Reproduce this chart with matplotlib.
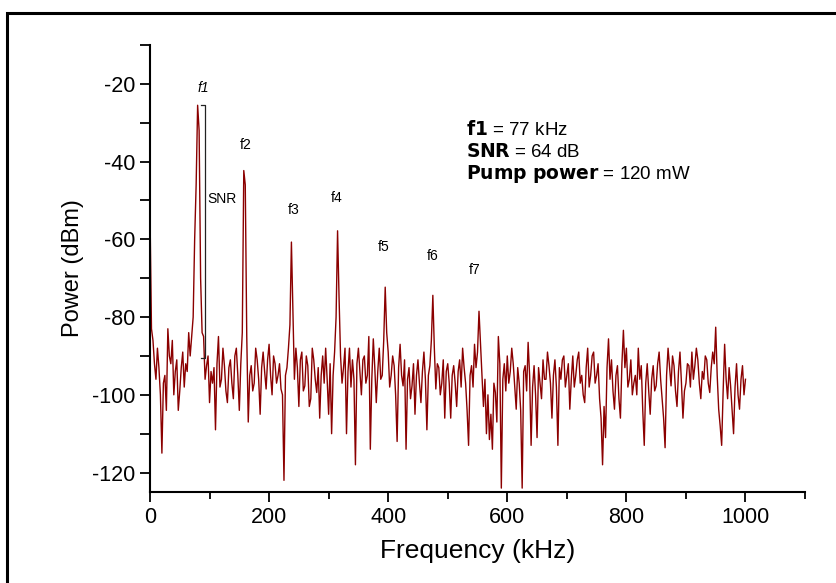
import numpy as np
import matplotlib
matplotlib.use('Agg')
import matplotlib.pyplot as plt
from matplotlib.patches import Rectangle
from matplotlib.ticker import MultipleLocator

plt.rcParams['font.family'] = ['Liberation Sans', 'DejaVu Sans']
plt.rcParams['axes.unicode_minus'] = False

# spectrum, 2.5 kHz steps from 0 to 1000 kHz (one row = 50 kHz)
freq = np.arange(0, 1000.1, 2.5)
power = [
    -53, -83, -86, -92, -96, -88, -93, -100, -115, -97, -95, -104, -83, -90, -92, -86, -100, -94, -91, -104,
    -99, -93, -89, -98, -92, -94, -84, -90, -85, -80, -60, -46, -25.5, -32, -70, -84, -85, -96, -92.5, -90,
    -102, -94, -97, -93, -109, -92, -85, -98, -96, -88, -92.5, -99, -102, -93, -91, -97, -101, -90, -88, -95,
    -104, -92, -84, -42.3, -46, -85, -107, -95, -92.5, -99, -97, -88, -91, -96, -105, -93, -89, -94, -98.5, -91,
    -87, -95, -100, -90, -92, -97, -95, -92, -98.5, -100, -122, -95, -93, -88, -82, -60.7, -78, -96, -88, -93,
    -103, -91, -89, -99, -97.7, -90, -92.5, -103, -101, -88, -91, -96, -99.4, -93, -106, -95, -90, -97, -88, -96,
    -105, -92, -110, -95, -89, -80, -57.8, -75, -90, -97, -93, -88, -110, -94, -88, -98, -91, -96, -118, -92,
    -88, -94, -100, -91, -90, -97, -95, -85, -114, -96, -85.6, -93, -102, -94, -88, -96, -95, -86, -72.3, -84,
    -89, -98, -95, -90, -92.5, -100, -112, -93, -87, -95, -97.7, -91, -114, -96, -93, -101, -97.7, -92, -105, -95,
    -91, -97, -102, -94, -89, -96, -109, -95, -92.5, -86, -74.4, -88, -98.5, -92, -93, -100, -97, -91, -106, -94,
    -92, -97, -106, -95, -92.5, -97, -103, -94, -91, -98, -88, -93, -97, -104, -113, -95, -92.5, -98, -87, -93,
    -89, -78.5, -87, -95, -103, -96, -110, -100, -111.5, -105, -114, -97, -99.4, -107, -85, -92, -124, -96, -92, -99,
    -90, -97, -94, -88, -92, -98, -103.7, -93, -97, -104, -124, -94, -92.5, -99, -86.5, -95, -113, -98, -92.5, -100,
    -111, -93, -97, -101, -91, -96, -96, -89, -92.5, -97, -106, -95, -91, -98, -113, -93, -96, -91, -90, -98,
    -95, -92, -103.7, -96, -90, -98, -95, -91, -89, -97, -95, -100, -102, -93, -88, -98, -95, -90, -89, -97,
    -95, -92, -101, -106, -118, -103, -111, -93, -85.6, -96, -91, -99, -103.7, -95, -92.5, -101, -106, -92, -83.4, -93,
    -88, -98, -96, -91, -100, -97, -95, -100, -88, -96, -92.5, -104, -113, -97, -92, -99, -105, -96, -92.5, -99,
    -97.7, -92, -89, -96, -101, -106, -113.6, -95, -88, -93, -97.7, -90, -92.5, -99, -103, -94, -89, -97, -106, -99,
    -97, -92, -92.5, -98, -89, -96, -92.5, -88, -91, -97, -101, -94, -96, -90, -91, -97, -99.4, -93, -89, -92,
    -82.6, -95, -103.7, -108, -113, -99, -87, -96, -101, -93, -97.7, -104, -110, -98, -92, -100, -103.7, -96, -92.5, -100,
    -96,
]

peak_labels = ['f1', 'f2', 'f3', 'f4', 'f5', 'f6', 'f7']
peak_label_x = [89, 161, 242, 313, 393, 474, 545]
peak_label_y = [-21, -35.8, -52.4, -49.3, -62, -64.3, -67.9]

fig = plt.figure(figsize=(8.37, 5.83), dpi=100)
ax = fig.add_axes([0.1792, 0.1561, 0.7826, 0.7667])

ax.plot(freq, power, color='#8b0000', linewidth=1.0)

# SNR bracket
ax.plot([86, 93, 93, 86], [-25.4, -25.4, -90.4, -90.4], color='#222222', linewidth=0.9)
ax.text(121, -49.5, 'SNR', fontsize=10, ha='center', va='center')

for lab, lx, ly in zip(peak_labels, peak_label_x, peak_label_y):
    style = 'italic' if lab == 'f1' else 'normal'
    ax.text(lx, ly, lab, fontsize=10, ha='center', va='center', style=style)

ax.text(531, -31.7, r'$\bf{f1}$ = 77 kHz', fontsize=13.5, va='center')
ax.text(531, -37.6, r'$\bf{SNR}$ = 64 dB', fontsize=13.5, va='center')
ax.text(531, -43.3, r'$\bf{Pump\ power}$ = 120 mW', fontsize=13.5, va='center')

ax.set_xlim(0, 1100)
ax.set_ylim(-125, -10)
ax.xaxis.set_minor_locator(MultipleLocator(100))
ax.yaxis.set_minor_locator(MultipleLocator(10))
ax.set_xticks([0, 200, 400, 600, 800, 1000])
ax.set_yticks([-120, -100, -80, -60, -40, -20])

ax.spines['top'].set_visible(False)
ax.spines['right'].set_visible(False)
ax.spines['left'].set_linewidth(1.5)
ax.spines['bottom'].set_linewidth(1.5)
ax.tick_params(which='major', direction='out', length=7, width=1.3, labelsize=15.5)
ax.tick_params(which='minor', direction='out', length=5, width=1.3)
ax.tick_params(axis='y', which='minor', length=7)

ax.set_xlabel('Frequency (kHz)', fontsize=19, labelpad=8)
ax.set_ylabel('Power (dBm)', fontsize=17, labelpad=6)

# border around the picture
fig.patches.append(Rectangle((7.5 / 837, -0.05), 1.0, 1.05 - 13 / 583,
                             transform=fig.transFigure, fill=False,
                             edgecolor='black', linewidth=2.2))

fig.savefig('out.png', dpi=100)
